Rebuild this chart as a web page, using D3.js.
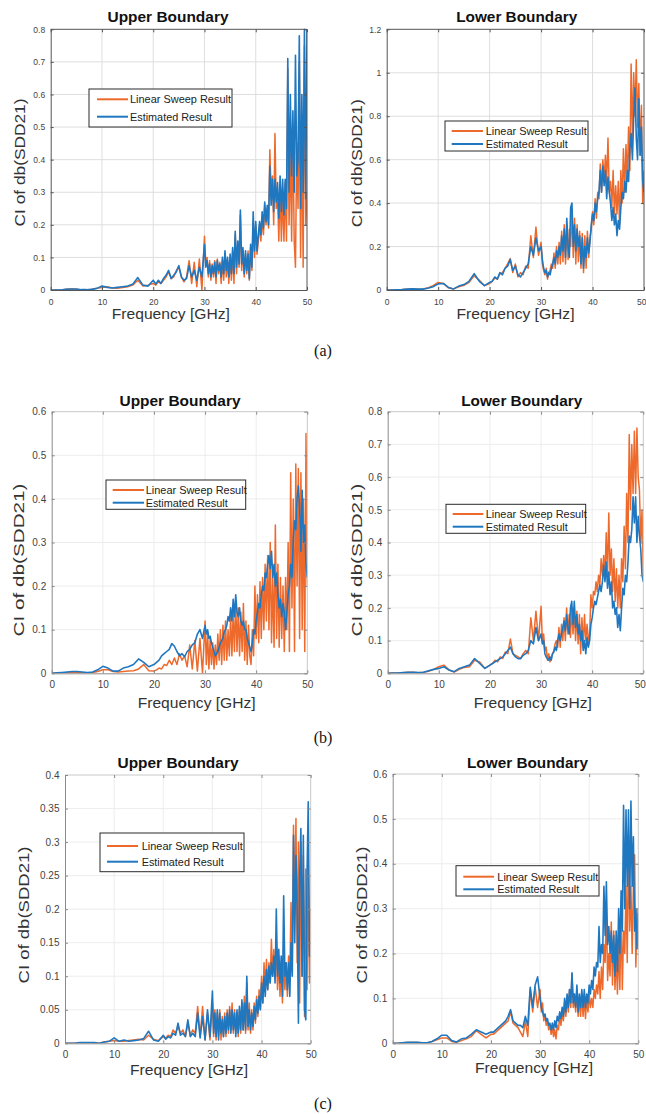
<!DOCTYPE html>
<html><head><meta charset="utf-8">
<script src="https://cdn.jsdelivr.net/npm/d3@7"></script>
<style>body{margin:0;background:#fff}svg{display:block}</style>
</head><body><svg id="c" width="646" height="1114"></svg>
<script>
// ---------------- DATA ----------------
const freqGHz = [0,1,2,3,4,5,6,7,8,9,10,11,12,13,14,15,16,17,18,19,20,
20.5,21,21.5,22,22.5,23,23.5,24,24.5,25,25.5,26,26.5,27,27.5,28,28.5,29,29.5,30,
30.25,30.5,30.75,31,31.25,31.5,31.75,32,32.25,32.5,32.75,33,33.25,33.5,33.75,34,34.25,34.5,34.75,35,
35.25,35.5,35.75,36,36.25,36.5,36.75,37,37.25,37.5,37.75,38,38.25,38.5,38.75,39,39.25,39.5,39.75,40,
40.25,40.5,40.75,41,41.25,41.5,41.75,42,42.25,42.5,42.75,43,43.25,43.5,43.75,44,44.25,44.5,44.75,45,
45.25,45.5,45.75,46,46.25,46.5,46.75,47,47.25,47.5,47.75,48,48.25,48.5,48.75,49,49.25,49.5,49.75,50];

const xTicks = [0,10,20,30,40,50];
const legendNames = ["Linear Sweep Result","Estimated Result"];
const titles = ["Upper Boundary","Lower Boundary"];
const xLabel = "Frequency [GHz]";
const yLabel = "CI of db(SDD21)";
const captions = ["(a)","(b)","(c)"];

const yTicksAUpper = [0,0.1,0.2,0.3,0.4,0.5,0.6,0.7,0.8];
const yTicksALower = [0,0.2,0.4,0.6,0.8,1,1.2];
const yTicksBUpper = [0,0.1,0.2,0.3,0.4,0.5,0.6];
const yTicksBLower = [0,0.1,0.2,0.3,0.4,0.5,0.6,0.7,0.8];
const yTicksCUpper = [0,0.05,0.1,0.15,0.2,0.25,0.3,0.35,0.4];
const yTicksCLower = [0,0.1,0.2,0.3,0.4,0.5,0.6];

// (a) Upper
const aUpperSweep = [0,0,0,0.002,0.003,0.002,0,0,0.002,0.005,0.008,0.01,0.006,0.005,0.008,0.01,0.015,0.03,0.012,0.015,0.02,
0.015,0.025,0.02,0.03,0.04,0.055,0.035,0.04,0.06,0.07,0.04,0.025,0.04,0.09,0.02,0.085,0.01,0.095,0.0,0.165,
0.08,0.1,0.04,0.09, 0.03,0.08,0.04,0.09, 0.02,0.095,0.05,0.085, 0.02,0.09,0.03,0.11, 0.04,0.09,0.02,0.1,
0.03,0.12,0.02,0.17, 0.05,0.14,0.07,0.23, 0.06,0.12,0.04,0.11, 0.05,0.12,0.03,0.13, 0.06,0.21,0.1,0.2,
0.11,0.15,0.2,0.15, 0.22,0.17,0.26,0.2, 0.25,0.19,0.43,0.3, 0.35,0.2,0.48,0.25, 0.3,0.15,0.32,0.15,
0.3,0.15,0.33,0.15, 0.68,0.2,0.45,0.15, 0.5,0.15,0.07,0.45, 0.25,0.7,0.1,0.5, 0.07,0.75,0.2,0.3];
const aUpperEst = [0,0,0,0.002,0.003,0.003,0.001,0.001,0.002,0.005,0.012,0.008,0.006,0.008,0.01,0.012,0.018,0.038,0.015,0.012,0.03,
0.018,0.03,0.02,0.035,0.045,0.06,0.035,0.045,0.055,0.075,0.04,0.03,0.035,0.075,0.04,0.06,0.03,0.07,0.04,0.14,
0.07,0.09,0.05,0.08, 0.04,0.075,0.05,0.085, 0.04,0.09,0.06,0.08, 0.04,0.1,0.05,0.12, 0.06,0.1,0.04,0.11,
0.05,0.13,0.05,0.18, 0.07,0.15,0.08,0.245, 0.08,0.13,0.05,0.12, 0.06,0.11,0.035,0.14, 0.07,0.24,0.12,0.21,
0.12,0.17,0.21,0.17, 0.24,0.19,0.27,0.21, 0.26,0.2,0.38,0.26, 0.34,0.24,0.34,0.27, 0.33,0.22,0.35,0.24,
0.34,0.23,0.34,0.25, 0.71,0.3,0.6,0.35, 0.55,0.3,0.72,0.35, 0.4,0.78,0.25,0.6, 0.3,0.8,0.28,0.8];
// (a) Lower
const aLowerSweep = [0,0,0.001,0.002,0.004,0.005,0.004,0.004,0.01,0.02,0.035,0.03,0.01,0.005,0.015,0.022,0.035,0.065,0.045,0.02,0.03,
0.04,0.055,0.05,0.075,0.08,0.1,0.12,0.145,0.08,0.12,0.06,0.08,0.07,0.11,0.1,0.25,0.15,0.29,0.16,0.22,
0.12,0.09,0.07,0.1, 0.05,0.08,0.09,0.12, 0.1,0.17,0.1,0.2, 0.12,0.22,0.12,0.27, 0.13,0.3,0.12,0.3,
0.14,0.28,0.2,0.37, 0.15,0.33,0.12,0.3, 0.13,0.27,0.1,0.26, 0.08,0.25,0.1,0.27, 0.15,0.24,0.28,0.36,
0.3,0.42,0.33,0.45, 0.42,0.58,0.45,0.6, 0.5,0.62,0.5,0.7, 0.45,0.5,0.38,0.55, 0.35,0.48,0.35,0.5,
0.3,0.55,0.4,0.65, 0.45,0.67,0.5,0.75, 0.55,1.04,0.7,1.0, 0.8,1.06,0.75,0.95, 0.62,0.85,0.4,0.55];
const aLowerEst = [0,0,0.001,0.002,0.004,0.005,0.004,0.004,0.008,0.015,0.028,0.03,0.012,0.005,0.018,0.025,0.04,0.075,0.04,0.02,0.035,
0.04,0.06,0.05,0.08,0.07,0.1,0.11,0.14,0.09,0.11,0.07,0.06,0.08,0.1,0.12,0.2,0.16,0.24,0.18,0.2,
0.14,0.1,0.08,0.09, 0.06,0.08,0.07,0.1, 0.12,0.15,0.12,0.18, 0.15,0.2,0.16,0.25, 0.18,0.28,0.15,0.33,
0.2,0.15,0.38,0.4, 0.2,0.3,0.18,0.28, 0.2,0.25,0.12,0.24, 0.1,0.2,0.15,0.24, 0.17,0.22,0.3,0.35,
0.32,0.4,0.36,0.42, 0.45,0.55,0.45,0.57, 0.48,0.55,0.42,0.52, 0.45,0.4,0.32,0.38, 0.3,0.35,0.25,0.32,
0.28,0.38,0.45,0.42, 0.5,0.45,0.55,0.5, 0.65,0.72,0.6,0.8, 0.93,0.7,0.6,0.88, 0.62,0.75,0.5,0.45];
// (b) Upper
const bUpperSweep = [0,0,0.001,0.001,0.002,0.002,0.001,0.001,0.002,0.004,0.008,0.008,0.004,0.003,0.004,0.005,0.006,0.01,0.02,0.006,0.005,
0.008,0.012,0.01,0.02,0.018,0.03,0.02,0.035,0.02,0.045,0.03,0.04,0.015,0.065,0.01,0.075,0.005,0.08,0.0,0.12,
0.02,0.09,0.01,0.08, 0.02,0.07,0.01,0.065, 0.02,0.09,0.03,0.1, 0.02,0.11,0.03,0.12, 0.03,0.1,0.04,0.13,
0.04,0.14,0.05,0.16, 0.05,0.15,0.04,0.14, 0.05,0.16,0.03,0.12, 0.02,0.11,0.04,0.02, 0.1,0.04,0.2,0.08,
0.18,0.07,0.21,0.08, 0.22,0.1,0.25,0.12, 0.27,0.1,0.3,0.07, 0.22,0.06,0.34,0.08, 0.25,0.06,0.22,0.08,
0.2,0.05,0.22,0.1, 0.3,0.05,0.46,0.15, 0.4,0.05,0.48,0.2, 0.47,0.08,0.46,0.1, 0.4,0.05,0.55,0.2];
const bUpperEst = [0,0.001,0.002,0.003,0.004,0.004,0.003,0.002,0.003,0.008,0.016,0.012,0.005,0.005,0.012,0.015,0.02,0.033,0.025,0.015,0.02,
0.025,0.03,0.04,0.045,0.05,0.055,0.068,0.062,0.05,0.04,0.045,0.038,0.05,0.055,0.065,0.07,0.09,0.1,0.08,0.11,
0.09,0.1,0.08,0.085, 0.07,0.06,0.05,0.04, 0.045,0.05,0.06,0.07, 0.075,0.08,0.095,0.1, 0.11,0.13,0.12,0.15,
0.12,0.17,0.13,0.18, 0.14,0.13,0.15,0.12, 0.11,0.12,0.1,0.1, 0.08,0.07,0.06,0.05, 0.07,0.1,0.09,0.12,
0.14,0.16,0.15,0.18, 0.2,0.19,0.23,0.22, 0.25,0.27,0.24,0.28, 0.22,0.25,0.2,0.23, 0.18,0.15,0.17,0.13,
0.16,0.14,0.1,0.14, 0.18,0.2,0.25,0.22, 0.3,0.35,0.33,0.4, 0.43,0.38,0.28,0.42, 0.3,0.34,0.25,0.22];
// (b) Lower
const bLowerSweep = [0,0.001,0.001,0.002,0.003,0.003,0.002,0.003,0.006,0.012,0.02,0.025,0.01,0.004,0.012,0.018,0.02,0.04,0.035,0.015,0.025,
0.03,0.04,0.035,0.05,0.045,0.065,0.06,0.105,0.06,0.055,0.05,0.045,0.06,0.07,0.06,0.17,0.1,0.19,0.1,0.205,
0.1,0.12,0.07,0.08, 0.04,0.06,0.035,0.05, 0.06,0.07,0.09,0.1, 0.08,0.14,0.08,0.15, 0.1,0.17,0.1,0.2,
0.12,0.18,0.11,0.2, 0.12,0.2,0.1,0.19, 0.09,0.18,0.06,0.17, 0.08,0.18,0.1,0.15, 0.1,0.12,0.24,0.2,
0.25,0.24,0.28,0.25, 0.3,0.27,0.35,0.3, 0.36,0.3,0.43,0.3, 0.49,0.3,0.38,0.25, 0.35,0.22,0.32,0.2,
0.3,0.2,0.35,0.28, 0.45,0.32,0.55,0.4, 0.73,0.5,0.7,0.55, 0.74,0.55,0.75,0.6, 0.56,0.4,0.5,0.3];
const bLowerEst = [0,0.001,0.001,0.002,0.003,0.003,0.002,0.003,0.008,0.012,0.015,0.02,0.01,0.005,0.015,0.02,0.025,0.045,0.03,0.015,0.025,
0.03,0.035,0.04,0.045,0.05,0.06,0.07,0.08,0.06,0.05,0.045,0.045,0.055,0.06,0.07,0.1,0.09,0.14,0.1,0.12,
0.09,0.1,0.06,0.05, 0.045,0.04,0.05,0.04, 0.06,0.065,0.08,0.07, 0.1,0.12,0.1,0.12, 0.14,0.16,0.13,0.18,
0.14,0.12,0.2,0.22, 0.15,0.22,0.14,0.18, 0.12,0.15,0.1,0.13, 0.07,0.1,0.06,0.11, 0.08,0.1,0.15,0.17,
0.2,0.22,0.21,0.23, 0.25,0.27,0.25,0.28, 0.33,0.28,0.34,0.26, 0.31,0.24,0.28,0.2, 0.22,0.18,0.2,0.14,
0.18,0.13,0.2,0.26, 0.24,0.3,0.28,0.34, 0.42,0.4,0.44,0.54, 0.46,0.54,0.4,0.48, 0.42,0.38,0.3,0.28];
// (c) Upper
const cUpperSweep = [0,0,0,0.001,0.001,0.001,0,0,0.002,0.003,0.004,0.003,0.003,0.004,0.005,0.006,0.005,0.012,0.006,0.004,0.01,
0.008,0.012,0.01,0.02,0.015,0.025,0.015,0.02,0.01,0.03,0.012,0.02,0.015,0.055,0.01,0.055,0.005,0.045,0.005,0.06,
0.01,0.05,0.005,0.045, 0.01,0.05,0.005,0.04, 0.01,0.045,0.01,0.05, 0.015,0.055,0.02,0.06, 0.015,0.05,0.015,0.045,
0.01,0.05,0.015,0.06, 0.02,0.07,0.015,0.09, 0.02,0.06,0.015,0.05, 0.02,0.06,0.03,0.07, 0.04,0.08,0.05,0.1,
0.06,0.12,0.08,0.125, 0.08,0.12,0.09,0.155, 0.1,0.14,0.1,0.15, 0.08,0.13,0.07,0.12, 0.06,0.13,0.08,0.12,
0.07,0.13,0.1,0.21, 0.12,0.325,0.2,0.335, 0.12,0.3,0.06,0.3, 0.1,0.28,0.04,0.26, 0.08,0.26,0.09,0.2];
const cUpperEst = [0,0,0,0.001,0.001,0.001,0.001,0,0.002,0.003,0.008,0.003,0.005,0.003,0.004,0.005,0.007,0.018,0.005,0.003,0.012,
0.006,0.01,0.008,0.015,0.012,0.03,0.012,0.015,0.01,0.035,0.01,0.015,0.01,0.045,0.008,0.04,0.005,0.05,0.01,0.078,
0.015,0.045,0.01,0.05, 0.005,0.045,0.015,0.035, 0.01,0.04,0.015,0.045, 0.02,0.05,0.015,0.05, 0.02,0.045,0.01,0.05,
0.015,0.055,0.02,0.065, 0.02,0.06,0.02,0.1, 0.025,0.05,0.02,0.045, 0.025,0.055,0.035,0.065, 0.045,0.07,0.05,0.09,
0.06,0.1,0.07,0.11, 0.08,0.115,0.09,0.12, 0.1,0.13,0.09,0.2, 0.1,0.14,0.09,0.13, 0.07,0.22,0.1,0.12,
0.08,0.12,0.07,0.15, 0.1,0.31,0.15,0.28, 0.2,0.03,0.25,0.32, 0.1,0.31,0.05,0.035, 0.25,0.36,0.13,0.13];
// (c) Lower
const cLowerSweep = [0,0,0.001,0.002,0.002,0.002,0.001,0.001,0.004,0.008,0.012,0.012,0.004,0.002,0.006,0.01,0.015,0.028,0.02,0.012,0.02,
0.02,0.025,0.03,0.035,0.04,0.045,0.05,0.07,0.045,0.04,0.035,0.025,0.015,0.05,0.015,0.12,0.07,0.125,0.08,0.12,
0.07,0.09,0.05,0.065, 0.04,0.05,0.03,0.04, 0.02,0.035,0.015,0.03, 0.01,0.04,0.03,0.06, 0.04,0.07,0.05,0.09,
0.06,0.1,0.07,0.12, 0.08,0.155,0.08,0.1, 0.07,0.12,0.06,0.1, 0.06,0.11,0.06,0.1, 0.055,0.1,0.07,0.11,
0.08,0.1,0.08,0.12, 0.1,0.13,0.11,0.16, 0.1,0.17,0.12,0.22, 0.18,0.3,0.14,0.2, 0.15,0.27,0.13,0.25,
0.12,0.2,0.11,0.22, 0.12,0.3,0.12,0.25, 0.2,0.35,0.18,0.46, 0.25,0.35,0.2,0.35, 0.42,0.17,0.3,0.21];
const cLowerEst = [0,0,0.001,0.002,0.002,0.002,0.001,0.001,0.004,0.01,0.018,0.018,0.006,0.003,0.01,0.012,0.02,0.03,0.025,0.02,0.025,
0.025,0.03,0.035,0.04,0.045,0.05,0.06,0.075,0.05,0.045,0.04,0.04,0.035,0.06,0.04,0.125,0.08,0.13,0.148,0.1,
0.08,0.07,0.06,0.065, 0.05,0.055,0.04,0.045, 0.03,0.045,0.03,0.05, 0.035,0.06,0.05,0.07, 0.055,0.08,0.06,0.1,
0.07,0.11,0.08,0.12, 0.09,0.157,0.09,0.11, 0.08,0.13,0.07,0.11, 0.08,0.12,0.08,0.12, 0.08,0.11,0.09,0.13,
0.11,0.14,0.12,0.17, 0.15,0.18,0.17,0.26, 0.18,0.22,0.2,0.35, 0.24,0.36,0.22,0.26, 0.2,0.25,0.18,0.24,
0.15,0.25,0.16,0.3, 0.2,0.34,0.25,0.53, 0.3,0.52,0.35,0.52, 0.3,0.54,0.35,0.46, 0.25,0.3,0.21,0.29];

// ---------------- LAYOUT ----------------
const ORANGE = '#EE6A2C', BLUE = '#1F77C0';
const FONT = '"Liberation Sans", Arial, Helvetica, sans-serif';
const panels = [
 {sweep:aUpperSweep, est:aUpperEst, yTicks:yTicksAUpper, title:titles[0], L:50.7,R:307,T:29.3,B:290, tick:8.5, dark:true,
  tt:[168,21.5], xl:[170.8,319], yl:[19,162.5,128], lg:[89,89,232,127,97,128,130,99.3,116.7]},
 {sweep:aLowerSweep, est:aLowerEst, yTicks:yTicksALower, title:titles[1], L:386.7,R:644,T:29.3,B:290, tick:8.5, dark:true,
  tt:[516.7,21.5], xl:[515.5,319], yl:[356,163.3,128], lg:[445,121,588,151,451.7,483,485.7,131,144]},
 {sweep:bUpperSweep, est:bUpperEst, yTicks:yTicksBUpper, title:titles[0], L:51.7,R:307.3,T:411.7,B:673.3, tick:10, dark:false,
  tt:[180,406], xl:[196.7,708], yl:[18,560,153], lg:[106,480,245.7,509.3,112.7,144,145.7,490,502.7]},
 {sweep:bLowerSweep, est:bLowerEst, yTicks:yTicksBLower, title:titles[1], L:387.7,R:643.3,T:411.7,B:673.3, tick:10, dark:false,
  tt:[521.7,406], xl:[532.8,708], yl:[356.7,560,153], lg:[446,504.3,585.7,533.3,452.7,483.3,485.7,514,526.7]},
 {sweep:cUpperSweep, est:cUpperEst, yTicks:yTicksCUpper, title:titles[0], L:65,R:310.7,T:775,B:1043.3, tick:10, dark:false,
  tt:[178,768], xl:[189,1075], yl:[23.3,915,137], lg:[100,833,244,871.7,107,138,141.7,846,861.7]},
 {sweep:cLowerSweep, est:cLowerEst, yTicks:yTicksCLower, title:titles[1], L:392.7,R:638.3,T:774,B:1043.3, tick:10, dark:false,
  tt:[527.5,768], xl:[534,1073], yl:[361.7,915,137], lg:[456,865.7,599,896,463.3,494,497.3,876.7,889.3]}
];
const captionPos = [[323,356],[323,743],[323,1109]];

// ---------------- DRAW ----------------
const svg = d3.select('#c');
const defs = svg.append('defs');

panels.forEach((p, i) => {
  const x = d3.scaleLinear().domain([0, 50]).range([p.L, p.R]);
  const y = d3.scaleLinear().domain([0, d3.max(p.yTicks)]).range([p.B, p.T]);
  const g = svg.append('g');
  const gridCol = p.dark ? '#dadada' : '#ebebeb';

  g.append('g').selectAll('line').data(xTicks.slice(1, -1)).join('line')
    .attr('x1', d => x(d)).attr('x2', d => x(d)).attr('y1', p.T).attr('y2', p.B)
    .attr('stroke', gridCol).attr('stroke-width', 0.9);
  g.append('g').selectAll('line').data(p.yTicks.slice(1, -1)).join('line')
    .attr('y1', d => y(d)).attr('y2', d => y(d)).attr('x1', p.L).attr('x2', p.R)
    .attr('stroke', gridCol).attr('stroke-width', 0.9);

  defs.append('clipPath').attr('id', 'clip' + i).append('rect')
    .attr('x', p.L).attr('y', p.T - 1).attr('width', p.R - p.L).attr('height', p.B - p.T + 1);

  const line = d3.line().x((d, j) => x(freqGHz[j])).y(d => y(d)).defined(d => d != null);
  g.append('path').datum(p.sweep).attr('d', line).attr('fill', 'none')
    .attr('stroke', ORANGE).attr('stroke-width', 1.5).attr('stroke-linejoin', 'round')
    .attr('clip-path', `url(#clip${i})`);
  g.append('path').datum(p.est).attr('d', line).attr('fill', 'none')
    .attr('stroke', BLUE).attr('stroke-width', 1.6).attr('stroke-linejoin', 'round')
    .attr('clip-path', `url(#clip${i})`);

  // frame
  const axCol = p.dark ? '#555' : '#8a8a8a';
  const boxCol = p.dark ? '#555' : '#c8c8c8';
  g.append('line').attr('x1', p.L).attr('x2', p.R).attr('y1', p.T).attr('y2', p.T).attr('stroke', boxCol);
  g.append('line').attr('x1', p.R).attr('x2', p.R).attr('y1', p.T).attr('y2', p.B).attr('stroke', boxCol);

  const fmt = d => String(d);
  const xa = g.append('g').attr('transform', `translate(0,${p.B})`)
    .call(d3.axisBottom(x).tickValues(xTicks).tickFormat(fmt).tickSizeInner(-3).tickSizeOuter(0).tickPadding(p.dark ? 8.7 : 8));
  const ya = g.append('g').attr('transform', `translate(${p.L},0)`)
    .call(d3.axisLeft(y).tickValues(p.yTicks).tickFormat(fmt).tickSizeInner(-3).tickSizeOuter(0).tickPadding(5.5));
  g.append('g').attr('transform', `translate(0,${p.T})`)
    .call(d3.axisTop(x).tickValues(xTicks).tickFormat('').tickSizeInner(-3).tickSizeOuter(0))
    .call(s => { s.select('.domain').remove(); s.selectAll('line').attr('stroke', axCol); });
  g.append('g').attr('transform', `translate(${p.R},0)`)
    .call(d3.axisRight(y).tickValues(p.yTicks).tickFormat('').tickSizeInner(-3).tickSizeOuter(0))
    .call(s => { s.select('.domain').remove(); s.selectAll('line').attr('stroke', axCol); });
  [xa, ya].forEach(a => {
    a.select('.domain').attr('stroke', axCol);
    a.selectAll('line').attr('stroke', axCol);
    a.selectAll('text').attr('fill', '#444').style('font-family', FONT).style('font-size', p.tick + 'px');
  });
  // keep the last x tick label inside the page when the plot reaches the right edge
  if (p.R > 640) {
    xa.selectAll('.tick').filter(d => d === 50).select('text').attr('text-anchor', 'end').attr('dx', 2);
  }

  // title
  g.append('text').attr('x', p.tt[0]).attr('y', p.tt[1]).attr('text-anchor', 'middle')
    .style('font-family', FONT).style('font-weight', 'bold').style('font-size', '15px').attr('fill', '#111')
    .attr('textLength', 121).attr('lengthAdjust', 'spacingAndGlyphs').text(p.title);
  // x label
  g.append('text').attr('x', p.xl[0]).attr('y', p.xl[1]).attr('text-anchor', 'middle')
    .style('font-family', FONT).style('font-size', '15px').attr('fill', '#333')
    .attr('textLength', 118).attr('lengthAdjust', 'spacingAndGlyphs').text(xLabel);
  // y label
  g.append('text').attr('transform', `translate(${p.yl[0]},${p.yl[1]}) rotate(-90)`)
    .attr('text-anchor', 'middle').attr('dominant-baseline', 'central')
    .style('font-family', FONT).style('font-size', '15px').attr('fill', '#333')
    .attr('textLength', p.yl[2]).attr('lengthAdjust', 'spacingAndGlyphs').text(yLabel);

  // legend
  const lg = p.lg;
  const leg = g.append('g');
  leg.append('rect').attr('x', lg[0]).attr('y', lg[1]).attr('width', lg[2] - lg[0]).attr('height', lg[3] - lg[1])
    .attr('fill', '#fff').attr('stroke', '#2a2a2a').attr('stroke-width', 1);
  [[ORANGE, lg[7]], [BLUE, lg[8]]].forEach(([c, yy], k) => {
    leg.append('line').attr('x1', lg[4]).attr('x2', lg[5]).attr('y1', yy).attr('y2', yy)
      .attr('stroke', c).attr('stroke-width', 2);
    leg.append('text').attr('x', lg[6]).attr('y', yy).attr('dominant-baseline', 'central')
      .style('font-family', FONT).style('font-size', '11px').attr('fill', '#222')
      .attr('textLength', k === 0 ? 101 : 82).attr('lengthAdjust', 'spacingAndGlyphs')
      .text(legendNames[k]);
  });
});

captions.forEach((c, i) => {
  svg.append('text').attr('x', captionPos[i][0]).attr('y', captionPos[i][1]).attr('text-anchor', 'middle')
    .style('font-family', '"Liberation Serif", "Times New Roman", serif').style('font-size', '16px')
    .attr('fill', '#111').text(c);
});
</script>
</body></html>
